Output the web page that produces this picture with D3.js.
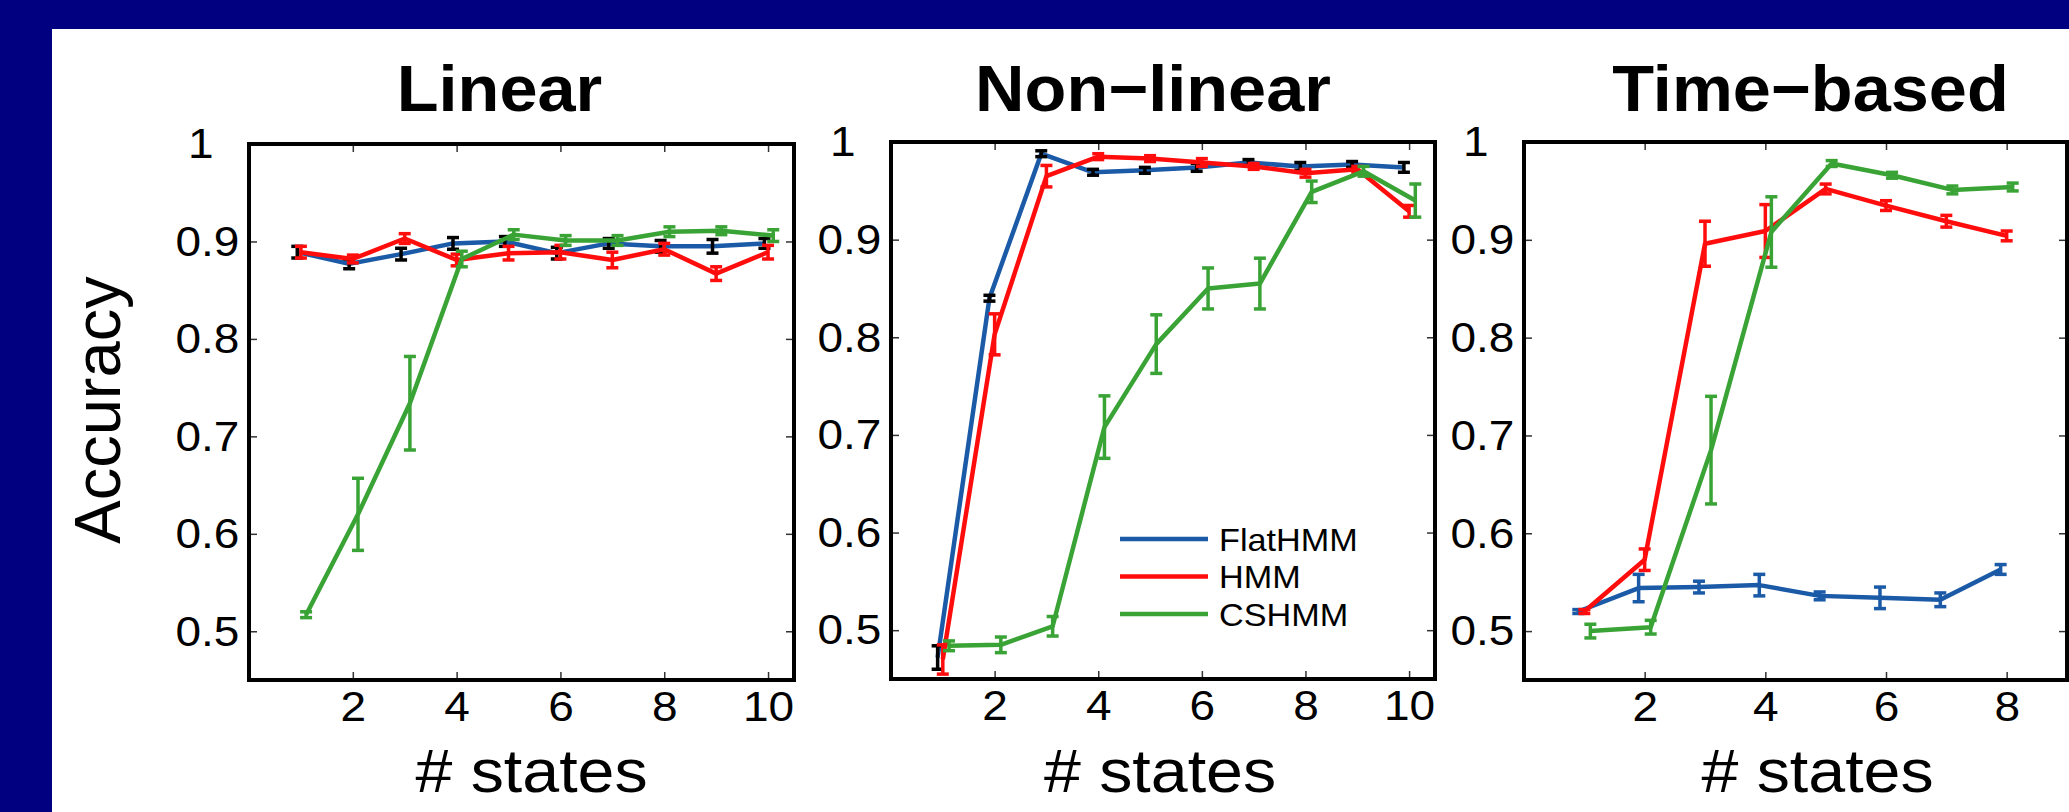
<!DOCTYPE html>
<html>
<head>
<meta charset="utf-8">
<script src="https://cdn.jsdelivr.net/npm/d3@7"></script>
<style>
  body { margin: 0; background: #000080; }
  svg { display: block; }
  text { font-family: "Liberation Sans", Arial, Helvetica, sans-serif; fill: #000; }
</style>
</head>
<body>
<div class="Chart"></div>
<script>
// ---- data ----
var statesTen = [1, 2, 3, 4, 5, 6, 7, 8, 9, 10];
var statesEight = [1, 2, 3, 4, 5, 6, 7, 8];
var yTicks = [0.5, 0.6, 0.7, 0.8, 0.9, 1];

// Linear
var linFlat    = [0.889, 0.877, 0.887, 0.898, 0.900, 0.888, 0.898, 0.895, 0.895, 0.898];
var linFlatErr = [0.006, 0.005, 0.006, 0.006, 0.005, 0.006, 0.005, 0.006, 0.007, 0.005];
var linHmm     = [0.889, 0.882, 0.903, 0.881, 0.888, 0.889, 0.881, 0.892, 0.867, 0.889];
var linHmmErr  = [0.006, 0.004, 0.005, 0.006, 0.007, 0.007, 0.008, 0.006, 0.007, 0.007];
var linCs      = [0.517, 0.620, 0.734, 0.882, 0.907, 0.901, 0.901, 0.910, 0.911, 0.906];
var linCsErr   = [0.003, 0.037, 0.048, 0.008, 0.005, 0.005, 0.005, 0.005, 0.004, 0.006];

// Non-linear
var nlFlat     = [0.472, 0.840, 0.988, 0.969, 0.971, 0.974, 0.979, 0.975, 0.977, 0.974];
var nlFlatErr  = [0.012, 0.003, 0.003, 0.003, 0.003, 0.004, 0.003, 0.004, 0.003, 0.005];
var nlHmm      = [0.470, 0.803, 0.965, 0.985, 0.983, 0.979, 0.975, 0.968, 0.972, 0.929];
var nlHmmErr   = [0.015, 0.021, 0.011, 0.003, 0.003, 0.004, 0.003, 0.004, 0.003, 0.006];
var nlCs       = [0.484, 0.485, 0.504, 0.708, 0.793, 0.850, 0.855, 0.949, 0.970, 0.940];
var nlCsErr    = [0.005, 0.008, 0.010, 0.032, 0.030, 0.021, 0.026, 0.011, 0.005, 0.017];

// Time-based
var tbFlat     = [0.520, 0.544, 0.545, 0.547, 0.536, 0.534, 0.532, 0.563];
var tbFlatErr  = [0.002, 0.014, 0.006, 0.011, 0.004, 0.011, 0.007, 0.005];
var tbHmm      = [0.520, 0.573, 0.896, 0.909, 0.952, 0.935, 0.919, 0.904];
var tbHmmErr   = [0.002, 0.011, 0.023, 0.027, 0.005, 0.005, 0.006, 0.005];
var tbCs       = [0.500, 0.504, 0.685, 0.908, 0.978, 0.966, 0.951, 0.954];
var tbCsErr    = [0.007, 0.007, 0.055, 0.036, 0.003, 0.003, 0.004, 0.004];

var seriesNames = ["FlatHMM", "HMM", "CSHMM"];

// ---- layout ----
var width = 2069, height = 812;
var blue = "#1b5aa6", red = "#ff0d0d", green = "#3aa336";
var stretch = "scale(1.07,1)"; // slide text is a little wider than plain Arial

var panels = [
  { title: "Linear", box: {l: 249, r: 794, t: 144, b: 680}, xMax: 10.5, xs: statesTen,
    titleDx: -22, labelDx: 10, legend: false,
    series: [
      {v: linFlat, e: linFlatErr, color: blue, errColor: "#000", dodge: -0.07},
      {v: linHmm, e: linHmmErr, color: red, errColor: red, dodge: 0},
      {v: linCs, e: linCsErr, color: green, errColor: green, dodge: 0.1}
    ]},
  { title: "Non\u2212linear", box: {l: 891, r: 1435, t: 142, b: 679}, xMax: 10.5, xs: statesTen,
    titleDx: -10, labelDx: -3, legend: true,
    series: [
      {v: nlFlat, e: nlFlatErr, color: blue, errColor: "#000", dodge: -0.1},
      {v: nlHmm, e: nlHmmErr, color: red, errColor: red, dodge: 0},
      {v: nlCs, e: nlCsErr, color: green, errColor: green, dodge: 0.12}
    ]},
  { title: "Time\u2212based", box: {l: 1524, r: 2067, t: 142, b: 680}, xMax: 9, xs: statesEight,
    titleDx: 15, labelDx: 22, legend: false,
    series: [
      {v: tbFlat, e: tbFlatErr, color: blue, errColor: blue, dodge: -0.1},
      {v: tbHmm, e: tbHmmErr, color: red, errColor: red, dodge: 0},
      {v: tbCs, e: tbCsErr, color: green, errColor: green, dodge: 0.1}
    ]}
];

var svg = d3.select(".Chart")
            .append("svg")
            .attr("width", width)
            .attr("height", height);

// navy frame, white slide area
svg.append("rect").attr("x", 0).attr("y", 0).attr("width", width).attr("height", height).attr("fill", "#000080");
svg.append("rect").attr("x", 52).attr("y", 29).attr("width", width - 52).attr("height", height - 29).attr("fill", "#fff");

// y label, shared
svg.append("text")
   .attr("transform", "translate(120,410) rotate(-90)")
   .attr("text-anchor", "middle")
   .attr("font-size", 65)
   .text("Accuracy");

function label(x, y, size) {
  return svg.append("text")
            .attr("transform", "translate(" + x + "," + y + ") " + stretch)
            .attr("text-anchor", "middle")
            .attr("font-size", size);
}

panels.forEach(function(p) {
  var b = p.box;
  var x = d3.scaleLinear().domain([0, p.xMax]).range([b.l, b.r]);
  var y = d3.scaleLinear().domain([0.45, 1]).range([b.b, b.t]);
  var g = svg.append("g");

  // ticks (inward, mirrored)
  var xTicks = d3.range(2, p.xMax, 2);
  var bottom = g.append("g").attr("transform", "translate(0," + b.b + ")")
    .call(d3.axisBottom(x).tickValues(xTicks).tickSizeInner(-8).tickSizeOuter(0).tickPadding(10));
  var top = g.append("g").attr("transform", "translate(0," + b.t + ")")
    .call(d3.axisTop(x).tickValues(xTicks).tickSizeInner(-8).tickSizeOuter(0).tickFormat(""));
  var left = g.append("g").attr("transform", "translate(" + b.l + ",0)")
    .call(d3.axisLeft(y).tickValues(yTicks).tickSizeInner(-8).tickSizeOuter(0).tickPadding(9).tickFormat(d3.format("")));
  var right = g.append("g").attr("transform", "translate(" + b.r + ",0)")
    .call(d3.axisRight(y).tickValues(yTicks).tickSizeInner(-8).tickSizeOuter(0).tickFormat(""));

  [bottom, top, left, right].forEach(function(a) {
    a.select(".domain").remove();
    a.selectAll("line").attr("stroke", "#333").attr("stroke-width", 1.5);
    a.selectAll("text").attr("font-size", 43).attr("font-family", null).attr("fill", "#000")
     .attr("transform", stretch);
  });
  left.selectAll(".tick text")
      .filter(function(d) { return d === 1; })
      .attr("text-anchor", "middle")
      .attr("x", -45);

  // series lines + error bars
  p.series.forEach(function(s) {
    var pts = s.v.map(function(v, i) { return {x: p.xs[i] + s.dodge, v: v, e: s.e[i]}; });
    var line = d3.line().x(function(d) { return x(d.x); }).y(function(d) { return y(d.v); });
    g.append("path")
     .attr("d", line(pts))
     .attr("fill", "none")
     .attr("stroke", s.color)
     .attr("stroke-width", 4.5)
     .attr("stroke-linejoin", "round");

    var eb = g.append("g").attr("stroke", s.errColor).attr("stroke-width", 3.5);
    pts.forEach(function(d) {
      var cx = x(d.x), y0 = y(d.v - d.e), y1 = y(d.v + d.e);
      eb.append("line").attr("x1", cx).attr("x2", cx).attr("y1", y0).attr("y2", y1);
      eb.append("line").attr("x1", cx - 6).attr("x2", cx + 6).attr("y1", y0).attr("y2", y0);
      eb.append("line").attr("x1", cx - 6).attr("x2", cx + 6).attr("y1", y1).attr("y2", y1);
    });
  });

  // axes box
  g.append("rect")
   .attr("x", b.l).attr("y", b.t)
   .attr("width", b.r - b.l).attr("height", b.b - b.t)
   .attr("fill", "none").attr("stroke", "#000").attr("stroke-width", 4);

  // title and x label
  var cx = (b.l + b.r) / 2;
  label(cx + p.titleDx, 111, 64).attr("font-weight", "bold").text(p.title);
  label(cx + p.labelDx, 792, 62).text("# states");

  // legend
  if (p.legend) {
    var colors = [blue, red, green];
    var lg = g.append("g");
    seriesNames.forEach(function(n, i) {
      var ly = 539 + i * 37.5;
      lg.append("line").attr("x1", 1120).attr("x2", 1208).attr("y1", ly).attr("y2", ly)
        .attr("stroke", colors[i]).attr("stroke-width", 4.5);
      lg.append("text")
        .attr("transform", "translate(1219," + ly + ") " + stretch)
        .attr("dy", "0.36em")
        .attr("font-size", 32).text(n);
    });
  }
});
</script>
</body>
</html>
